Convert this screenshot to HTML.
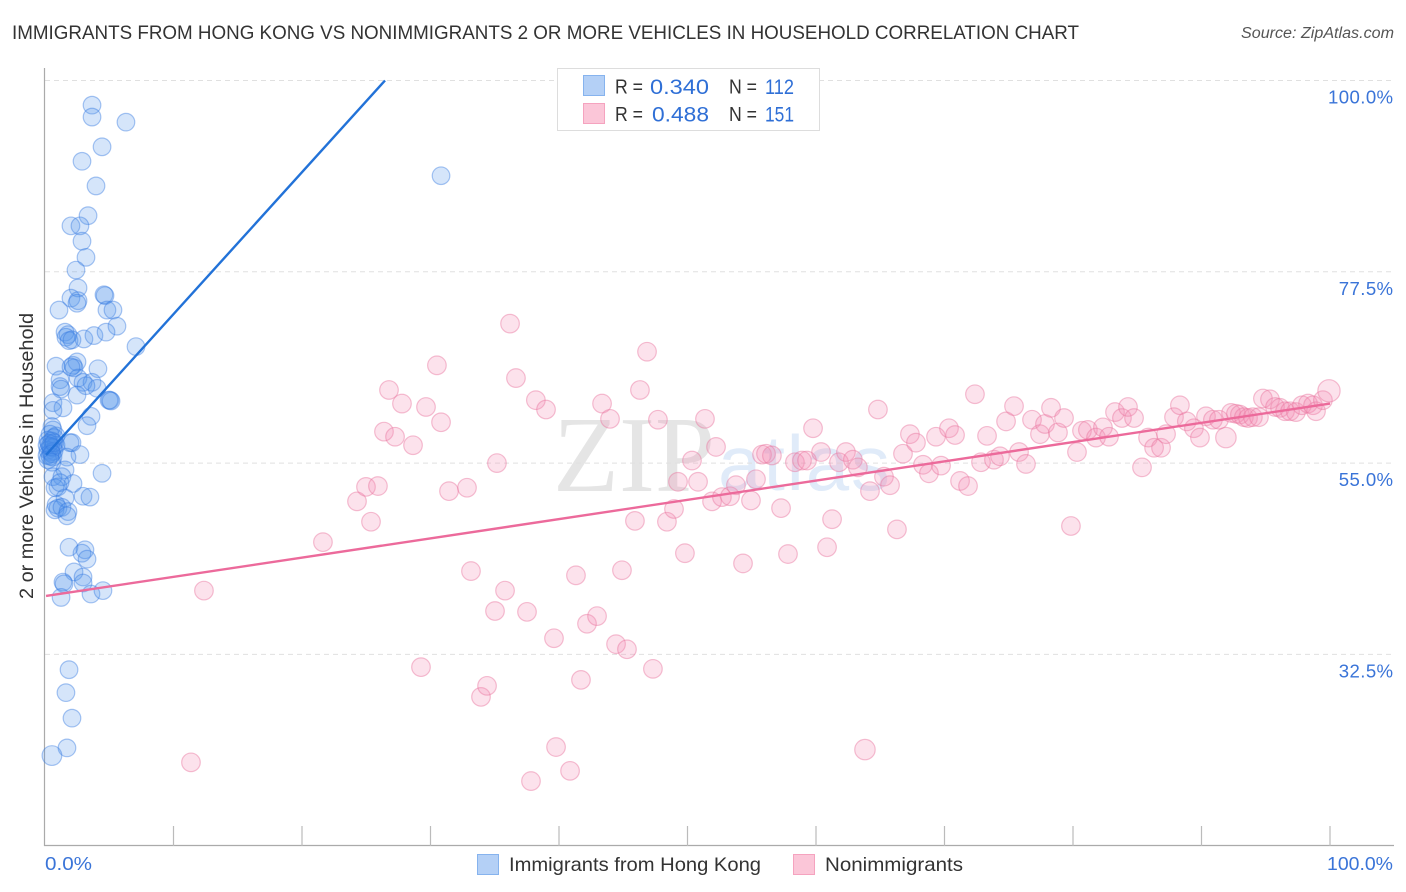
<!DOCTYPE html>
<html lang="en">
<head>
<meta charset="utf-8">
<title>Immigrants from Hong Kong vs Nonimmigrants correlation chart</title>
<style>
html,body{margin:0;padding:0;background:#fff;}
svg{display:block;font-family:"Liberation Sans",sans-serif;}
</style>
</head>
<body>
<svg id="chart" xmlns="http://www.w3.org/2000/svg" width="1406" height="892" viewBox="0 0 1406 892">
  <rect width="1406" height="892" fill="#ffffff"/>
  <text x="12" y="39" font-size="19" fill="#333333" textLength="1067" lengthAdjust="spacingAndGlyphs">IMMIGRANTS FROM HONG KONG VS NONIMMIGRANTS 2 OR MORE VEHICLES IN HOUSEHOLD CORRELATION CHART</text>
  <text x="1241" y="38" font-size="15.5" font-style="italic" fill="#555555" textLength="153" lengthAdjust="spacingAndGlyphs">Source: ZipAtlas.com</text>

  <g>
    <text x="553" y="491" font-family="'Liberation Serif',serif" font-size="108" fill="#e5e5e5">ZIP</text>
    <text x="718" y="490" font-size="78" fill="#e0ebf9" textLength="172" lengthAdjust="spacing">atlas</text>
  </g>

  <g id="grid"></g>
  <g id="axes"></g>
  <g id="blue-series"></g>
  <g id="pink-series"></g>
  <g id="trends"></g>

  <text transform="translate(33,599) rotate(-90)" font-size="19.5" fill="#333333" textLength="286" lengthAdjust="spacingAndGlyphs">2 or more Vehicles in Household</text>

  <g>
    <rect x="557.5" y="68.5" width="262" height="62" fill="#ffffff" stroke="#dddddd" stroke-width="1"/>
    <rect x="583.5" y="75.5" width="21" height="20" fill="#b4d0f6" stroke="#86b3ee" stroke-width="1"/>
    <rect x="583.5" y="103.5" width="21" height="20" fill="#fbc6d8" stroke="#f5a3bf" stroke-width="1"/>
    <g>
      <text x="615" y="93.5" font-size="20.5" fill="#333333" textLength="28" lengthAdjust="spacingAndGlyphs">R =</text>
      <text x="650" y="94" font-size="21.5" fill="#2f6fd6" textLength="59" lengthAdjust="spacingAndGlyphs">0.340</text>
      <text x="729" y="93.5" font-size="20.5" fill="#333333" textLength="28" lengthAdjust="spacingAndGlyphs">N =</text>
      <text x="765" y="94" font-size="21.5" fill="#2f6fd6" textLength="29" lengthAdjust="spacingAndGlyphs">112</text>
    </g>
    <g>
      <text x="615" y="121" font-size="20.5" fill="#333333" textLength="28" lengthAdjust="spacingAndGlyphs">R =</text>
      <text x="652" y="121.5" font-size="21.5" fill="#2f6fd6" textLength="57" lengthAdjust="spacingAndGlyphs">0.488</text>
      <text x="729" y="121" font-size="20.5" fill="#333333" textLength="28" lengthAdjust="spacingAndGlyphs">N =</text>
      <text x="765" y="121.5" font-size="21.5" fill="#2f6fd6" textLength="29" lengthAdjust="spacingAndGlyphs">151</text>
    </g>
  </g>

  <g>
    <rect x="477.5" y="854.5" width="21" height="20" fill="#b4d0f6" stroke="#86b3ee" stroke-width="1"/>
    <text x="509" y="871" font-size="19.8" fill="#333333" textLength="252" lengthAdjust="spacingAndGlyphs">Immigrants from Hong Kong</text>
    <rect x="793.5" y="854.5" width="21" height="20" fill="#fbc6d8" stroke="#f5a3bf" stroke-width="1"/>
    <text x="825" y="871" font-size="19.8" fill="#333333" textLength="138" lengthAdjust="spacingAndGlyphs">Nonimmigrants</text>
  </g>
</svg>

<script>
const xTickValues = [0,10,20,30,40,50,60,70,80,90,100];
const xEdgeValues = [0,100];
const xEdgeLabels = ["0.0%","100.0%"];
const yTickValues = [100,77.5,55,32.5];
const yTickLabels = ["100.0%","77.5%","55.0%","32.5%"];

const trendBlue = [[0.08,55.96],[26.46,100]];
const trendPink = [[0.08,39.37],[100,62.0]];

const bluePoints = [
[3.66,97.1],[3.66,95.7],[6.30,95.1],[4.44,92.2],[2.88,90.5],[3.97,87.6],[30.82,88.8],[3.35,84.1],
[2.02,82.9],[2.72,82.9],[2.88,81.1],[3.19,79.2],[2.41,77.7],[2.57,75.6],[2.02,74.4],[2.57,74.1],
[2.49,73.8],[4.59,74.8],[4.67,74.7],[1.09,73.0],[4.82,73.0],[5.29,73.0],[5.60,71.1],[1.56,70.4],
[1.79,70.1],[1.63,69.8],[1.87,69.4],[2.10,69.5],[3.03,69.6],[3.81,70.0],[4.75,70.4],[7.08,68.7],
[0.86,66.4],[2.18,66.5],[2.49,66.9],[2.26,66.2],[2.02,66.3],[4.12,66.1],[1.17,64.8],[1.17,64.0],
[1.25,63.7],[2.57,65.0],[2.96,64.5],[3.66,64.5],[4.05,63.8],[3.19,64.1],[2.49,63.0],[5.06,62.4],
[4.98,62.4],[5.14,62.3],[0.62,62.1],[1.40,61.5],[0.62,61.2],[3.58,60.5],[3.27,59.4],[0.54,59.3],
[0.62,58.9],[0.86,58.2],[0.39,58.4],[0.70,58.0],[0.23,57.7],[0.54,57.6],[0.16,57.1],[0.39,57.0],
[0.86,57.1],[0.62,56.8],[0.23,56.5],[0.47,56.3],[0.70,56.4],[0.16,55.9],[0.39,55.8],[0.62,55.7],
[0.23,55.4],[0.47,56.9],[0.31,57.3],[0.70,57.4],[0.54,56.1],[2.10,57.4],[1.95,57.4],[2.72,56.0],
[1.71,55.7],[0.54,55.1],[1.56,54.2],[4.44,53.8],[0.62,53.4],[1.32,53.4],[2.18,52.6],[1.01,52.2],
[0.78,52.1],[1.17,52.7],[2.96,51.1],[3.50,51.0],[1.56,50.9],[0.86,50.1],[0.78,49.5],[1.01,49.7],
[1.32,49.8],[1.79,49.3],[1.71,48.8],[1.87,45.1],[3.11,44.8],[2.88,44.4],[3.27,43.7],[2.26,42.2],
[2.96,41.6],[1.40,41.0],[1.48,40.8],[2.96,40.9],[3.58,39.6],[4.51,40.0],[1.25,39.2],[1.87,30.7],
[1.63,28.0],[2.10,25.0],[1.71,21.5],[0.54,20.6,1.12]
];

const pinkPoints = [
[12.37,40.0],[11.36,19.8],[21.63,45.7],[24.28,50.5],[24.98,52.2],[25.91,52.3],[25.37,48.1],[26.77,63.6],
[26.38,58.7],[27.24,58.1],[27.78,62.0],[28.64,57.1],[29.65,61.6],[30.50,66.5],[30.82,59.8],[31.44,51.7],
[32.84,52.1],[29.26,31.0],[33.15,42.3],[35.02,37.6],[35.80,40.0],[35.17,55.0],[36.19,71.4],[36.65,65.0],
[38.20,62.4],[38.99,61.3],[37.51,37.5],[33.93,27.5],[34.40,28.8],[39.61,34.4],[41.32,41.8],[41.71,29.5],
[39.77,21.6],[37.82,17.6],[40.86,18.8],[42.18,36.1],[42.96,37.0],[43.35,62.0],[43.97,60.2],[44.90,42.4],
[44.44,33.7],[45.29,33.1],[46.30,63.6],[46.85,68.1],[47.70,60.1],[45.91,48.2],[47.31,30.8],[48.40,48.1],
[48.95,49.6],[49.26,52.8],[49.80,44.4],[50.35,55.3],[50.82,52.8],[51.36,60.2],[51.91,50.5],[52.22,56.9],
[52.68,51.0],[53.31,51.1],[53.77,52.4],[54.32,43.2],[54.94,50.6],[55.33,53.1],[55.80,56.0],[56.11,56.1],
[56.57,55.9],[57.28,49.7],[57.82,44.3],[58.36,55.1],[58.91,55.3],[59.30,55.3],[59.77,59.1],[60.39,56.3],
[60.86,45.1],[61.25,48.4],[61.79,55.1],[62.33,56.3],[62.87,55.4],[63.26,54.5],[64.20,51.7],[63.81,21.3,1.1],
[64.82,61.3],[65.29,53.4],[65.76,52.4],[66.30,47.2],[66.77,56.1],[67.31,58.4],[67.78,57.4],[68.33,54.8],
[68.79,53.8],[69.34,58.1],[69.73,54.7],[70.35,59.1],[70.82,58.3],[71.21,52.9],[71.83,52.3],[72.37,63.1],
[72.84,55.1],[73.31,58.2],[73.85,55.4],[74.32,55.8],[74.79,59.9],[75.41,61.7],[75.80,56.3],[76.34,54.9],
[76.81,60.1],[77.43,58.4],[77.82,59.6],[78.29,61.5],[78.83,58.6],[79.30,60.3],[79.84,47.6],[80.31,56.3],
[80.70,58.8],[81.16,58.9],[81.79,58.0],[82.33,59.2],[82.80,58.1],[83.27,61.0],[83.81,60.3],[84.28,61.6],
[84.75,60.3],[85.37,54.5],[85.84,58.0],[86.31,56.8],[86.85,56.8],[87.24,58.4],[87.86,60.4],[88.32,61.8],
[88.86,59.9],[89.41,59.1],[89.88,58.0],[90.35,60.5],[90.89,60.1],[91.36,60.1],[91.90,58.0,1.1],[92.30,60.9],
[92.68,60.8],[92.99,60.7],[93.30,60.4],[93.62,60.3],[94.00,60.4],[94.47,60.4],[94.78,62.6],[95.33,62.5],
[95.72,61.6],[96.11,61.5],[96.50,61.1],[96.89,61.1],[97.35,61.0],[97.82,61.8],[98.29,62.0],[98.68,61.8],
[98.91,61.1],[99.45,62.4],[99.92,63.5,1.2]
];

const SVG_NS = "http://www.w3.org/2000/svg";
function xScale(v){ return 45 + v * 12.85; }
function yScale(v){ return 80.5 + (100 - v) * 8.502; }
function make(tag, attrs){
  const el = document.createElementNS(SVG_NS, tag);
  for (const k in attrs) el.setAttribute(k, attrs[k]);
  return el;
}

const gridGroup = document.getElementById("grid");
const axesGroup = document.getElementById("axes");

yTickValues.forEach(function(v, i){
  const gridLine = make("line", {x1:45, x2:1394, y1:yScale(v), y2:yScale(v), stroke:"#e0e0e0", "stroke-width":1, "stroke-dasharray":"5 4"});
  
  
  gridGroup.appendChild(gridLine);
  const label = make("text", {x:1393.5, y:yScale(v)+23, "font-size":18.6, fill:"#3a74d8", "text-anchor":"end", "letter-spacing":0.4});
  label.textContent = yTickLabels[i];
  
  
  axesGroup.appendChild(label);
});

const yAxisLine = make("line", {x1:44.5, x2:44.5, y1:68, y2:846, stroke:"#aaaaaa", "stroke-width":1.2});


axesGroup.appendChild(yAxisLine);

const xAxisLine = make("line", {x1:44, x2:1394, y1:845.5, y2:845.5, stroke:"#aaaaaa", "stroke-width":1.2});


axesGroup.appendChild(xAxisLine);

xTickValues.forEach(function(v){
  if (v === 0) return;
  const tick = make("line", {x1:xScale(v), x2:xScale(v), y1:826, y2:846, stroke:"#bbbbbb", "stroke-width":1.2});
  
  
  axesGroup.appendChild(tick);
});

xEdgeValues.forEach(function(v, i){
  const label = make("text", {x: i === 0 ? xScale(v) : 1327, y:870, "font-size":18.6, fill:"#3a74d8", textLength: i === 0 ? 47 : 66, lengthAdjust:"spacingAndGlyphs"});
  label.textContent = xEdgeLabels[i];
  
  
  axesGroup.appendChild(label);
});

const blueGroup = document.getElementById("blue-series");
bluePoints.forEach(function(p){
  const dot = make("circle", {cx:xScale(p[0]), cy:yScale(p[1]), r:8.8*(p[2]||1), fill:"rgba(80,145,235,0.24)", stroke:"rgba(50,120,225,0.42)", "stroke-width":1.2});
  
  
  blueGroup.appendChild(dot);
});

const pinkGroup = document.getElementById("pink-series");
pinkPoints.forEach(function(p){
  const dot = make("circle", {cx:xScale(p[0]), cy:yScale(p[1]), r:9.3*(p[2]||1), fill:"rgba(245,140,178,0.25)", stroke:"rgba(232,115,158,0.45)", "stroke-width":1.2});
  
  
  pinkGroup.appendChild(dot);
});

const trendGroup = document.getElementById("trends");
const blueTrend = make("line", {x1:xScale(trendBlue[0][0]), y1:yScale(trendBlue[0][1]), x2:xScale(trendBlue[1][0]), y2:yScale(trendBlue[1][1]), stroke:"#2272d8", "stroke-width":2.4});


trendGroup.appendChild(blueTrend);
const pinkTrend = make("line", {x1:xScale(trendPink[0][0]), y1:yScale(trendPink[0][1]), x2:xScale(trendPink[1][0]), y2:yScale(trendPink[1][1]), stroke:"#ec6a9b", "stroke-width":2.4});


trendGroup.appendChild(pinkTrend);
</script>
</body>
</html>
